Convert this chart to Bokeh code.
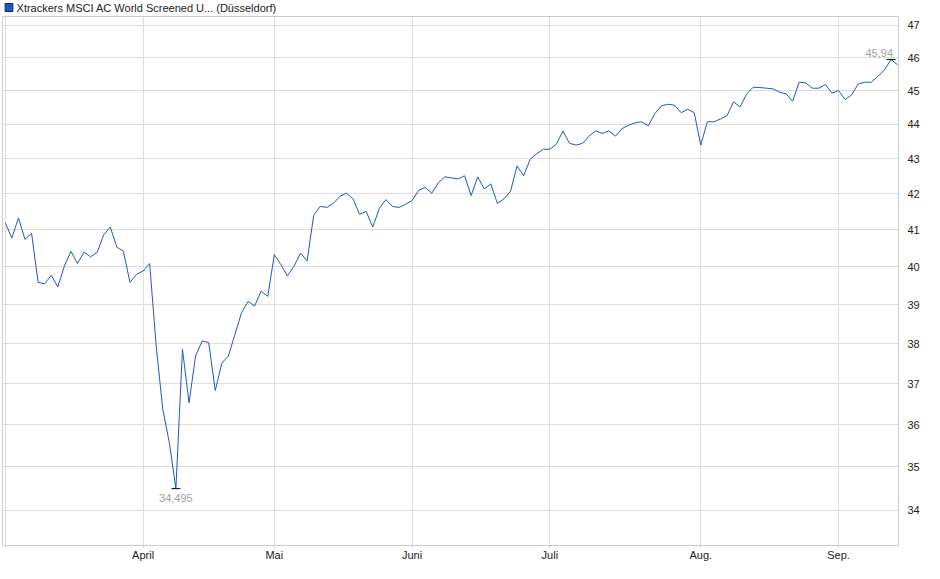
import pandas as pd
from bokeh.plotting import figure
from bokeh.layouts import column
from bokeh.models import Range1d, FixedTicker, PrintfTickFormatter, Label
from bokeh.core.properties import value
from bokeh.embed import file_html
from bokeh.resources import INLINE

# ---------------- data ----------------
title_text = "Xtrackers MSCI AC World Screened U... (Düsseldorf)"
holidays = ["2025-04-18", "2025-04-21", "2025-05-01"]
dates = [d for d in pd.bdate_range("2025-03-03", "2025-09-12")
         if d.strftime("%Y-%m-%d") not in holidays]

prices = [
    41.19, 40.78, 41.33, 40.74, 40.91, 39.59, 39.55, 39.78, 39.47, 40.02,
    40.42, 40.09, 40.40, 40.27, 40.39, 40.87, 41.08, 40.53, 40.42, 39.59,
    39.80, 39.89, 40.09, 37.94, 36.37, 35.57, 34.495, 37.86, 36.53, 37.69,
    38.07, 38.03, 36.83, 37.51, 37.69, 38.24, 38.79, 39.09, 38.97, 39.36,
    39.22, 40.33, 40.06, 39.76, 40.02, 40.37, 40.16, 41.40, 41.65, 41.62,
    41.73, 41.93, 42.02, 41.86, 41.43, 41.51, 41.08, 41.59, 41.84, 41.65,
    41.62, 41.71, 41.81, 42.10, 42.18, 42.02, 42.31, 42.48, 42.45, 42.42,
    42.51, 41.95, 42.48, 42.14, 42.28, 41.73, 41.86, 42.07, 42.79, 42.51,
    42.98, 43.14, 43.27, 43.27, 43.42, 43.80, 43.44, 43.39, 43.44, 43.66,
    43.80, 43.73, 43.80, 43.65, 43.87, 43.97, 44.04, 44.07, 43.95, 44.31,
    44.54, 44.59, 44.56, 44.34, 44.44, 44.34, 43.39, 44.07, 44.07, 44.15,
    44.25, 44.66, 44.51, 44.90, 45.10, 45.09, 45.07, 45.05, 44.95, 44.90,
    44.68, 45.25, 45.23, 45.07, 45.07, 45.18, 44.92, 45.00, 44.73, 44.87,
    45.20, 45.25, 45.25, 45.43, 45.62, 45.94, 45.78,
]

month_names = {3: "", 4: "April", 5: "Mai", 6: "Juni", 7: "Juli",
               8: "Aug.", 9: "Sep."}
y_ticks = list(range(34, 48))

# ---------------- derived ----------------
n = min(len(dates), len(prices))
dates = dates[:n]
prices = prices[:n]
idx = list(range(n))
month_idx = [i for i in idx if i == 0 or dates[i].month != dates[i - 1].month]
imin = min(idx, key=lambda i: prices[i])
imax = max(idx, key=lambda i: prices[i])


def fmt(v):
    return f"{v:.3f}".rstrip("0").rstrip(".").replace(".", ",")


FONT = "Liberation Sans"
LINE = "#1d58c2"
GRID = "#dddddd"
W = 924
HEAD_H = 15
H = 548

# ---------------- header (legend-like title) ----------------
head = figure(width=W, height=HEAD_H, x_range=Range1d(0, W),
              y_range=Range1d(0, HEAD_H), output_backend="svg",
              toolbar_location=None, min_border=0, outline_line_color=None,
              background_fill_color="white", border_fill_color="white")
head.axis.visible = False
head.grid.visible = False
head.rect(x=[6.7], y=[HEAD_H - 7], width=8, height=8, fill_color=LINE,
          line_color="#0d2c6b", line_width=1)
head.text(x=[14.5], y=[HEAD_H - 7], text=[title_text], text_baseline="middle",
          text_align="left", text_font=value(FONT), text_font_size="11px",
          text_color="#222222")

# ---------------- main chart ----------------
p = figure(width=W, height=H, title=None,
           x_range=Range1d(-0.43, 136.14), y_range=Range1d(33.21, 47.28),
           y_axis_type="log", y_axis_location="right",
           output_backend="svg", toolbar_location=None,
           min_border_left=2, min_border_right=26,
           min_border_top=1, min_border_bottom=18,
           background_fill_color="white", border_fill_color="white",
           outline_line_color="#cccccc")

# grids
p.xgrid.ticker = FixedTicker(ticks=month_idx)
p.ygrid.ticker = FixedTicker(ticks=y_ticks)
p.grid.grid_line_color = GRID
p.grid.grid_line_width = 1

# x axis
p.xaxis.ticker = FixedTicker(ticks=month_idx)
p.xaxis.major_label_overrides = {i: month_names[dates[i].month] for i in month_idx}
p.xaxis.axis_line_color = None
p.xaxis.major_tick_line_color = "#cccccc"
p.xaxis.major_tick_out = 2
p.xaxis.major_tick_in = 0
p.xaxis.minor_tick_line_color = None
p.xaxis.major_label_standoff = 1

# y axis
p.yaxis.ticker = FixedTicker(ticks=y_ticks)
p.yaxis.formatter = PrintfTickFormatter(format="%d")
p.yaxis.axis_line_color = None
p.yaxis.major_tick_line_color = None
p.yaxis.minor_tick_line_color = None
p.yaxis.major_label_standoff = 3

for ax in (p.xaxis, p.yaxis):
    ax.major_label_text_font = FONT
    ax.major_label_text_font_size = "11px"
    ax.major_label_text_color = "#222222"

# series
p.line(x=idx, y=prices, line_color=LINE, line_width=1)

# extremes
p.scatter(x=[imin, imax], y=[prices[imin], prices[imax]], marker="dash",
          size=9, line_color="black", line_width=1)
p.add_layout(Label(x=imin, y=prices[imin], text=fmt(prices[imin]),
                   text_align="center", text_baseline="top", y_offset=-5,
                   text_color="#a0a0a0", text_font=FONT, text_font_size="11px"))
p.add_layout(Label(x=imax, y=prices[imax], text=fmt(prices[imax]),
                   text_align="right", text_baseline="bottom", x_offset=2,
                   y_offset=3, text_color="#a0a0a0", text_font=FONT,
                   text_font_size="11px"))

layout = column(head, p, spacing=0)
open("out.html", "w").write(file_html(layout, INLINE))
